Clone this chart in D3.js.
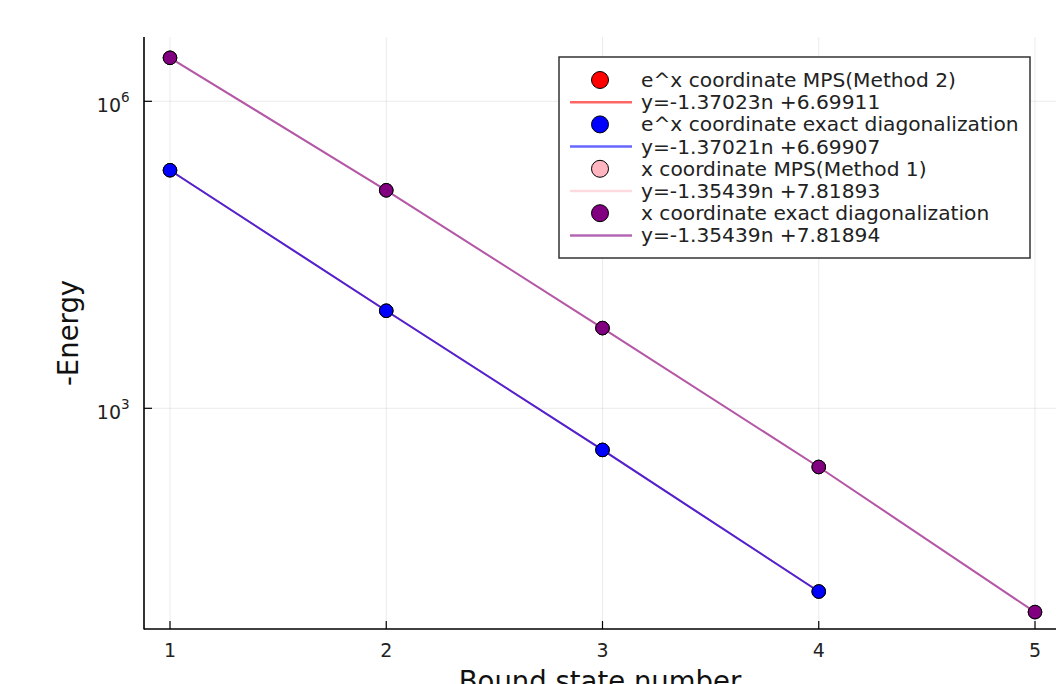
<!DOCTYPE html>
<html>
<head>
<meta charset="utf-8">
<script src="https://cdn.jsdelivr.net/npm/d3@7"></script>
<style>
  html, body { margin: 0; padding: 0; background: #fff; }
  svg { display: block; font-family: "DejaVu Sans", sans-serif; }
</style>
</head>
<body>
<svg id="chart" width="1056" height="684"></svg>
<script>
// ---- data ----
const nExp = [1, 2, 3, 4];
const nX = [1, 2, 3, 4, 5];
const expMPS = [2.12e5, 8.98e3, 3.92e2, 16.2];        // e^x coordinate MPS (Method 2)
const expED = [2.12e5, 8.98e3, 3.92e2, 16.2];         // e^x coordinate exact diagonalization
const xMPS = [2.66e6, 1.35e5, 6.08e3, 2.67e2, 10.2];  // x coordinate MPS (Method 1)
const xED = [2.66e6, 1.35e5, 6.08e3, 2.67e2, 10.2];   // x coordinate exact diagonalization
const seriesNames = [
  "e^x coordinate MPS(Method 2)",
  "e^x coordinate exact diagonalization",
  "x coordinate MPS(Method 1)",
  "x coordinate exact diagonalization"
];
const fitLabels = [
  "y=-1.37023n +6.69911",
  "y=-1.37021n +6.69907",
  "y=-1.35439n +7.81893",
  "y=-1.35439n +7.81894"
];
const markerColors = ["#ff0000", "#0000ff", "#ffb6c1", "#800080"];
const lineColors = ["#ff0000", "#0000ff", "#ffc0cb", "#800080"];
const lineOpacity = [0.55, 0.7, 0.6, 0.6];
const xTicks = [1, 2, 3, 4, 5];
const yTicks = [1e3, 1e6];
const yTickExp = ["3", "6"];
const xLabel = "Bound state number";
const yLabel = "-Energy";

// ---- layout ----
const svg = d3.select("#chart");
const pLeft = 144, pRight = 1056, pTop = 37, pBottom = 629;
const x = d3.scaleLinear().domain([1, 5]).range([170, 1035]);
const y = d3.scaleLog().domain([1e3, 1e6]).range([408.3, 101.3]);

// grid
const grid = svg.append("g");
grid.selectAll("line.gx").data(xTicks).join("line")
  .attr("x1", d => x(d)).attr("x2", d => x(d))
  .attr("y1", pTop).attr("y2", pBottom)
  .attr("stroke", "#000").attr("stroke-opacity", 0.08).attr("stroke-width", 1);
grid.selectAll("line.gy").data(yTicks).join("line")
  .attr("x1", pLeft).attr("x2", pRight)
  .attr("y1", d => y(d)).attr("y2", d => y(d))
  .attr("stroke", "#000").attr("stroke-opacity", 0.08).attr("stroke-width", 1);

// series
const series = [
  { n: nExp, v: expMPS },
  { n: nExp, v: expED },
  { n: nX, v: xMPS },
  { n: nX, v: xED }
];
const line = d3.line().x(d => x(d[0])).y(d => y(d[1]));
const plotG = svg.append("g");
series.forEach((s, i) => {
  const pts = s.n.map((n, j) => [n, s.v[j]]);
  plotG.append("path").datum(pts)
    .attr("d", line)
    .attr("fill", "none")
    .attr("stroke", lineColors[i])
    .attr("stroke-opacity", lineOpacity[i])
    .attr("stroke-width", 2);
});
series.forEach((s, i) => {
  const pts = s.n.map((n, j) => [n, s.v[j]]);
  plotG.selectAll(null).data(pts).join("circle")
    .attr("cx", d => x(d[0])).attr("cy", d => y(d[1]))
    .attr("r", 6.8)
    .attr("fill", markerColors[i])
    .attr("stroke", "#000").attr("stroke-width", 1);
});

// axes
const axG = svg.append("g");
axG.append("line").attr("x1", pLeft).attr("x2", pLeft).attr("y1", pTop).attr("y2", pBottom + 0.5)
  .attr("stroke", "#000").attr("stroke-width", 1.6);
axG.append("line").attr("x1", pLeft).attr("x2", pRight).attr("y1", pBottom).attr("y2", pBottom)
  .attr("stroke", "#000").attr("stroke-width", 1.6);
axG.selectAll("line.tx").data(xTicks).join("line")
  .attr("x1", d => x(d)).attr("x2", d => x(d))
  .attr("y1", pBottom).attr("y2", pBottom - 8)
  .attr("stroke", "#000").attr("stroke-width", 1.2);
axG.selectAll("line.ty").data(yTicks).join("line")
  .attr("x1", pLeft).attr("x2", pLeft + 8)
  .attr("y1", d => y(d)).attr("y2", d => y(d))
  .attr("stroke", "#000").attr("stroke-width", 1.2);

axG.selectAll("text.xt").data(xTicks).join("text")
  .attr("x", d => x(d)).attr("y", 657)
  .attr("text-anchor", "middle")
  .attr("font-size", 19).attr("fill", "#222")
  .text(d => d);

yTicks.forEach((t, i) => {
  axG.append("text")
    .attr("x", 121).attr("y", y(t) + 10.5)
    .attr("text-anchor", "end")
    .attr("font-size", 19).attr("fill", "#222")
    .text("10");
  axG.append("text")
    .attr("x", 121).attr("y", y(t) + 1)
    .attr("font-size", 13.5).attr("fill", "#222")
    .text(yTickExp[i]);
});

// axis labels
svg.append("text")
  .attr("x", (pLeft + pRight) / 2).attr("y", 691)
  .attr("text-anchor", "middle")
  .attr("font-size", 27.5).attr("fill", "#111")
  .text(xLabel);
svg.append("text")
  .attr("transform", `translate(78, ${(pTop + pBottom) / 2}) rotate(-90)`)
  .attr("text-anchor", "middle")
  .attr("font-size", 27.5).attr("fill", "#111")
  .text(yLabel);

// legend
const lg = svg.append("g");
lg.append("rect")
  .attr("x", 559).attr("y", 57).attr("width", 471).attr("height", 201)
  .attr("fill", "#fff").attr("stroke", "#333").attr("stroke-width", 1.5);
const rowH = 22.2, row0 = 80;
seriesNames.forEach((name, i) => {
  const yM = row0 + (2 * i) * rowH;
  const yL = row0 + (2 * i + 1) * rowH;
  lg.append("circle").attr("cx", 600).attr("cy", yM).attr("r", 8.5)
    .attr("fill", markerColors[i]).attr("stroke", "#000").attr("stroke-width", 1);
  lg.append("text").attr("x", 641).attr("y", yM + 7)
    .attr("font-size", 20.2).attr("fill", "#222").text(name);
  lg.append("line").attr("x1", 570).attr("x2", 632).attr("y1", yL).attr("y2", yL)
    .attr("stroke", lineColors[i]).attr("stroke-opacity", 0.6).attr("stroke-width", 2.5);
  lg.append("text").attr("x", 641).attr("y", yL + 7)
    .attr("font-size", 20.2).attr("fill", "#222").text(fitLabels[i]);
});
</script>
</body>
</html>
